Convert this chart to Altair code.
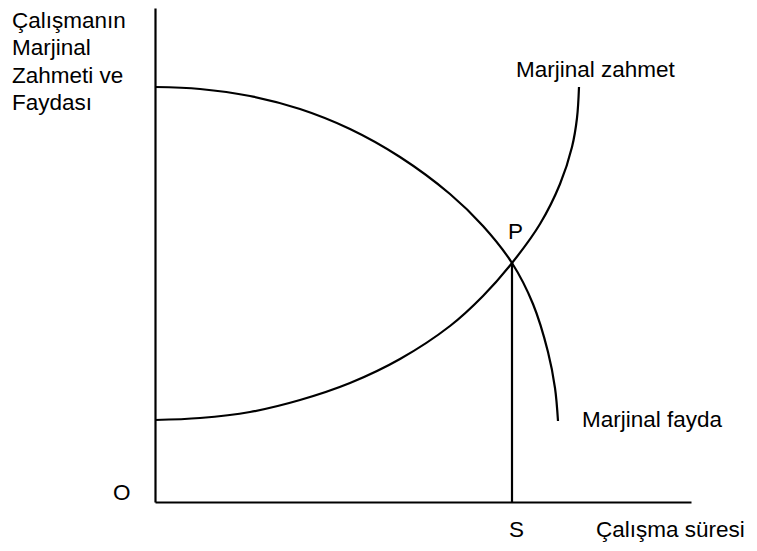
import altair as alt
import pandas as pd

# Marginal benefit (Marjinal fayda) curve
# units: x = pixels right of the origin, y = pixels above the horizontal axis
fayda_x = [0, 45, 95, 145, 195, 245, 295, 328, 357, 378, 393, 400, 403]
fayda_y = [415, 413, 406, 393, 373, 345, 308, 276, 239, 198, 150, 114, 81]

# Marginal cost (Marjinal zahmet) curve
zahmet_x = [0, 45, 95, 145, 195, 245, 295, 328, 357, 385, 405, 417, 422, 424]
zahmet_y = [82, 84, 90, 102, 119, 143, 176, 206, 239, 278, 318, 355, 384, 415]

# Equilibrium point P and its drop line to S
p_x = [357, 357]
p_y = [239, 0]

# Text labels
label_text = ["Çalışmanın", "Marjinal", "Zahmeti ve", "Faydası",
              "O", "S", "Çalışma süresi", "P", "Marjinal zahmet", "Marjinal fayda"]
label_x = [-143, -143, -143, -143, -42, 354, 441, 353, 361, 427]
label_y = [474, 447, 419, 392, 2, -35, -35, 263, 425, 75]

fayda = pd.DataFrame({"x": fayda_x, "y": fayda_y, "i": range(len(fayda_x))})
zahmet = pd.DataFrame({"x": zahmet_x, "y": zahmet_y, "i": range(len(zahmet_x))})
drop = pd.DataFrame({"x": p_x, "y": p_y})
labels = pd.DataFrame({"x": label_x, "y": label_y, "t": label_text})

xs = alt.Scale(domain=[0, 536], nice=False, zero=False)
ys = alt.Scale(domain=[0, 494], nice=False, zero=False)
ax = alt.Axis(domain=True, domainColor="black", domainWidth=2.2, ticks=False,
              labels=False, grid=False)

X = alt.X("x:Q", scale=xs, axis=ax, title=None)
Y = alt.Y("y:Q", scale=ys, axis=ax, title=None)

c1 = alt.Chart(fayda).mark_line(color="black", strokeWidth=2.2, interpolate="catmull-rom").encode(
    x=X, y=Y, order="i:Q")
c2 = alt.Chart(zahmet).mark_line(color="black", strokeWidth=2.2, interpolate="catmull-rom").encode(
    x=X, y=Y, order="i:Q")
c3 = alt.Chart(drop).mark_line(color="black", strokeWidth=2.2).encode(x=X, y=Y)
c4 = alt.Chart(labels).mark_text(align="left", baseline="alphabetic", font="Liberation Sans",
                                 fontSize=22.5, color="black").encode(x=X, y=Y, text="t:N")

chart = alt.layer(c1, c2, c3, c4).properties(
    width=536, height=494,
    autosize=alt.AutoSizeParams(type="none"),
    padding={"left": 147, "top": 0, "right": 58, "bottom": 44},
).configure_view(stroke=None)

chart.save("out.html", embed_options={"renderer": "svg", "actions": False})
